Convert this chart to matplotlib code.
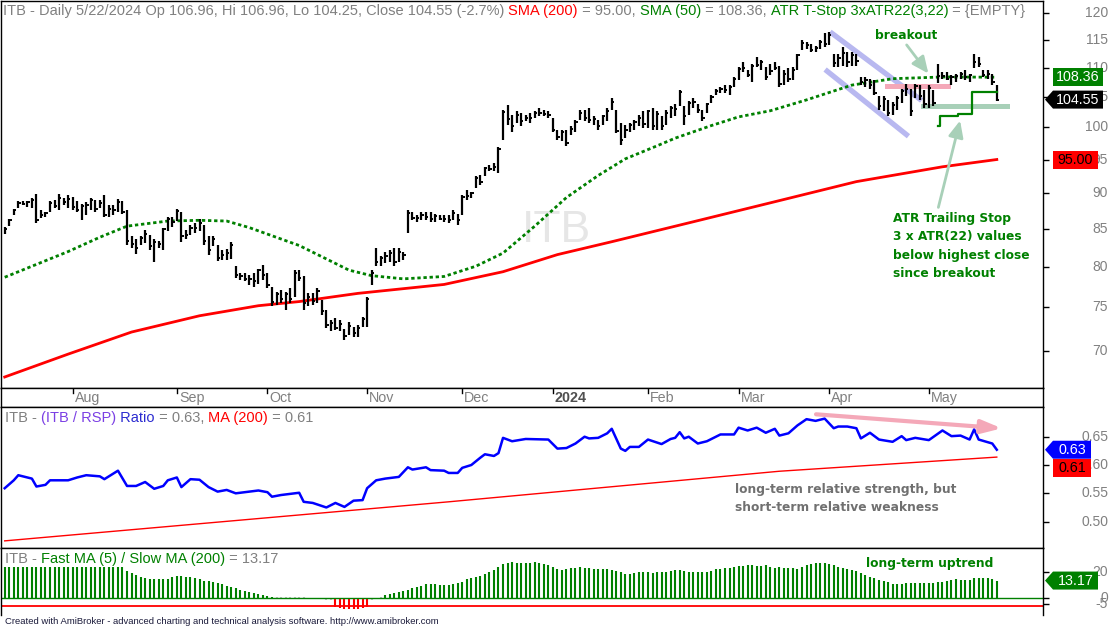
import numpy as np
import matplotlib
matplotlib.use('Agg')
import matplotlib.pyplot as plt
from matplotlib.patches import Polygon
from matplotlib.transforms import blended_transform_factory
from matplotlib.ticker import FixedLocator, NullLocator, NullFormatter

plt.rcParams['font.family'] = ['Liberation Sans', 'DejaVu Sans']

# daily bars, Jul 11 2023 .. May 22 2024 (bar index 0..219)
highs = [
    85.3, 86.4, 87.8, 88.9, 88.9, 88.9, 89.3, 89.9, 87.6, 87.4,
    88.9, 89.1, 89.9, 89.3, 89.7, 89.5, 88.9, 88.5, 88.7, 89.3,
    89.1, 89.1, 89.7, 88.3, 88.3, 89.2, 88.9, 87.6, 84.0, 83.7,
    84.0, 84.9, 84.2, 83.7, 83.4, 85.1, 86.7, 86.7, 87.8, 87.3,
    84.9, 85.6, 85.8, 86.4, 85.6, 84.0, 84.1, 82.9, 82.2, 82.3,
    83.2, 80.1, 79.3, 79.2, 79.0, 79.2, 79.8, 80.3, 79.2, 77.5,
    76.9, 77.1, 76.9, 77.3, 79.6, 79.6, 78.8, 76.7, 76.7, 77.3,
    75.9, 74.7, 73.5, 73.7, 73.5, 72.5, 73.3, 72.7, 72.9, 73.9,
    76.3, 79.6, 82.5, 81.4, 82.0, 82.2, 82.5, 82.5, 82.0, 87.6,
    87.3, 86.9, 87.3, 87.3, 87.3, 87.1, 86.9, 86.9, 86.9, 87.6,
    87.1, 89.7, 90.5, 90.2, 92.5, 92.7, 93.9, 94.2, 94.4, 96.9,
    102.8, 103.7, 102.0, 102.6, 102.3, 102.0, 102.3, 102.6, 103.2, 102.9,
    102.6, 101.6, 99.6, 99.6, 99.6, 100.2, 101.2, 102.9, 102.9, 103.2,
    101.8, 101.2, 102.0, 103.2, 104.8, 102.9, 100.7, 100.4, 100.7, 101.2,
    102.0, 102.6, 102.9, 103.2, 102.6, 101.8, 102.9, 103.5, 103.8, 106.2,
    103.5, 104.3, 104.8, 103.8, 102.9, 104.0, 105.3, 106.4, 106.7, 107.0,
    107.0, 108.4, 110.1, 111.0, 109.6, 110.7, 111.9, 111.4, 110.1, 110.7,
    111.0, 110.4, 109.6, 109.9, 110.1, 112.5, 115.0, 114.6, 114.3, 113.9,
    115.0, 116.3, 116.5, 112.5, 112.5, 113.8, 112.8, 112.8, 112.5, 108.4,
    108.4, 108.1, 107.8, 105.1, 105.1, 104.5, 104.2, 105.1, 106.4, 107.2,
    106.4, 107.2, 107.0, 106.2, 107.0, 106.2, 110.7, 109.3, 109.3, 108.7,
    109.0, 109.3, 109.6, 109.0, 112.5, 111.9, 109.6, 109.6, 109.0, 106.96]
lows = [
    84.3, 85.4, 86.9, 87.9, 88.3, 88.0, 87.9, 85.8, 86.5, 86.7,
    87.3, 87.9, 87.6, 88.3, 87.9, 87.7, 87.3, 86.2, 86.9, 87.6,
    87.3, 87.9, 86.7, 86.7, 86.9, 87.3, 87.1, 82.9, 82.5, 81.7,
    82.9, 83.1, 82.2, 80.7, 82.5, 82.2, 84.7, 85.3, 86.1, 83.3,
    83.7, 84.2, 84.5, 84.7, 82.9, 81.6, 82.7, 80.8, 80.9, 80.9,
    81.0, 78.6, 78.4, 78.2, 77.7, 77.5, 77.9, 78.4, 77.3, 75.2,
    75.3, 75.5, 74.7, 75.5, 76.3, 78.2, 74.7, 75.2, 75.3, 75.5,
    74.1, 72.6, 72.2, 72.3, 72.2, 71.2, 71.8, 71.5, 71.5, 72.7,
    72.7, 77.7, 80.1, 80.1, 80.5, 80.7, 80.1, 80.7, 80.9, 84.5,
    86.2, 85.9, 86.2, 86.2, 85.9, 85.9, 86.2, 86.0, 85.8, 86.2,
    85.6, 86.9, 89.0, 89.3, 90.8, 91.2, 92.5, 93.2, 93.2, 93.0,
    98.0, 100.4, 99.3, 100.7, 100.2, 101.0, 100.7, 101.6, 101.8, 101.8,
    101.6, 99.3, 98.0, 97.8, 97.1, 98.8, 99.3, 101.2, 101.0, 100.7,
    100.4, 99.6, 100.4, 101.0, 102.9, 99.1, 97.3, 98.3, 99.3, 99.6,
    100.2, 99.9, 99.9, 99.6, 99.6, 99.6, 100.4, 101.6, 101.8, 103.5,
    100.4, 102.0, 103.2, 102.3, 101.0, 102.3, 104.0, 105.3, 105.6, 105.6,
    105.3, 106.7, 107.9, 109.3, 108.4, 107.6, 110.1, 109.6, 107.9, 108.7,
    109.6, 106.6, 107.0, 107.6, 107.9, 109.6, 113.2, 113.4, 112.8, 112.8,
    113.4, 113.8, 114.0, 110.1, 110.1, 110.4, 110.1, 110.4, 110.4, 107.0,
    106.6, 106.4, 105.3, 102.9, 102.6, 101.8, 102.0, 102.9, 103.9, 105.1,
    101.8, 104.8, 104.5, 103.2, 103.2, 103.5, 107.3, 108.1, 107.9, 107.0,
    107.6, 108.1, 107.9, 107.6, 109.9, 110.1, 108.4, 108.1, 107.0, 104.25]
closes = [
    85.0, 86.2, 87.6, 88.6, 88.5, 88.7, 89.0, 86.2, 87.0, 87.2,
    88.6, 88.2, 89.4, 88.8, 89.2, 88.0, 87.6, 88.2, 88.3, 89.0,
    87.8, 88.6, 87.0, 87.8, 87.6, 88.8, 87.4, 83.4, 83.0, 82.5,
    83.8, 84.3, 82.7, 83.2, 83.0, 85.0, 86.4, 86.0, 87.5, 84.0,
    84.2, 85.2, 85.2, 85.8, 83.4, 82.2, 83.6, 81.2, 81.5, 81.8,
    82.8, 79.0, 78.9, 78.5, 78.5, 78.2, 79.6, 79.0, 77.7, 75.6,
    76.6, 76.0, 76.6, 76.0, 79.3, 78.6, 75.5, 76.3, 75.8, 77.0,
    74.6, 72.9, 73.2, 72.6, 73.0, 71.6, 72.8, 72.0, 72.6, 73.6,
    76.0, 79.2, 80.6, 81.2, 81.4, 81.8, 80.6, 82.0, 81.6, 87.2,
    86.5, 86.5, 86.9, 86.6, 86.4, 86.8, 86.4, 86.4, 86.2, 87.2,
    86.2, 89.5, 89.6, 90.0, 92.2, 91.6, 93.7, 93.6, 93.8, 96.6,
    102.5, 101.3, 100.3, 102.0, 101.0, 101.6, 101.6, 102.3, 102.4, 102.2,
    102.0, 99.6, 98.5, 99.2, 97.5, 99.8, 100.8, 102.4, 101.6, 101.2,
    101.4, 100.2, 101.8, 102.6, 104.2, 99.5, 98.0, 99.6, 100.4, 100.8,
    101.6, 100.6, 102.6, 100.2, 102.2, 100.2, 102.4, 103.2, 103.0, 105.8,
    101.8, 103.9, 104.1, 102.8, 101.6, 103.8, 105.0, 106.0, 106.4, 106.1,
    106.6, 108.1, 109.8, 110.0, 108.8, 110.4, 110.5, 111.0, 108.4, 109.4,
    110.0, 107.2, 109.0, 108.0, 109.7, 112.2, 114.4, 114.0, 113.2, 113.6,
    114.7, 114.2, 116.0, 110.8, 111.8, 112.6, 111.0, 112.2, 111.2, 107.5,
    107.8, 107.0, 105.7, 103.5, 104.6, 102.4, 103.6, 104.8, 106.0, 106.4,
    102.6, 106.8, 105.2, 103.8, 106.5, 104.0, 108.6, 108.6, 108.0, 108.4,
    108.6, 108.9, 108.4, 108.8, 111.0, 110.6, 108.8, 109.0, 107.6, 104.55]

sma200_idx = [0, 14, 28, 43, 56, 65, 78, 97, 110, 122, 134, 152, 170, 188, 207, 219]
sma200_val = [67.1, 69.6, 72.1, 74.0, 75.2, 75.7, 76.7, 77.8, 79.4, 81.6, 83.3,
              86.0, 88.8, 91.7, 93.9, 95.0]
sma50_idx = [0, 6, 14, 21, 27, 36, 43, 49, 54, 65, 76, 81, 88, 97, 104, 110, 117,
             124, 131, 137, 144, 148, 156, 162, 169, 177, 187, 196, 207, 219]
sma50_val = [78.7, 80.1, 82.0, 83.9, 85.4, 86.1, 86.2, 86.1, 85.2, 82.8, 79.6,
             78.9, 78.5, 78.8, 80.1, 81.8, 85.4, 89.4, 92.6, 95.1, 97.1, 98.3,
             100.3, 101.7, 102.7, 104.5, 107.0, 108.1, 108.4, 108.36]
stop_idx = [206, 207, 208, 209, 210, 211, 212, 213, 214, 215, 216, 217, 218, 219]
stop_val = [100.2, 101.9, 101.9, 101.9, 101.9, 102.2, 102.2, 102.2,
            105.8, 105.8, 105.8, 105.8, 105.8, 105.8]
price_ticks = [70, 75, 80, 85, 90, 95, 100, 105, 110, 115, 120]

month_idx = [15, 38, 58, 80, 101, 121, 142, 162, 182, 204]
month_lbl = ['Aug', 'Sep', 'Oct', 'Nov', 'Dec', '2024', 'Feb', 'Mar', 'Apr', 'May']

ratio_idx = [0, 2, 3, 6, 7, 9, 10, 14, 16, 18, 21, 22, 25, 27, 29, 31, 33, 35, 36,
             38, 39, 41, 43, 45, 47, 49, 51, 56, 58, 59, 61, 65, 66, 68, 71, 73,
             75, 77, 79, 80, 82, 84, 87, 89, 90, 93, 94, 97, 98, 100, 101, 103,
             105, 106, 108, 109, 110, 112, 115, 120, 122, 124, 126, 128, 129,
             131, 133, 134, 136, 137, 138, 140, 142, 145, 147, 148, 149, 150,
             151, 153, 155, 158, 161, 162, 164, 166, 168, 170, 171, 173, 175,
             177, 179, 181, 183, 184, 186, 188, 189, 191, 193, 196, 198, 199,
             201, 204, 207, 209, 211, 213, 214, 215, 218, 219]
ratio_val = [0.559, 0.573, 0.582, 0.576, 0.562, 0.565, 0.573, 0.573, 0.578, 0.582,
             0.580, 0.575, 0.590, 0.563, 0.563, 0.570, 0.558, 0.563, 0.573, 0.578,
             0.561, 0.575, 0.574, 0.561, 0.553, 0.556, 0.550, 0.555, 0.552, 0.544,
             0.547, 0.551, 0.535, 0.533, 0.525, 0.533, 0.526, 0.537, 0.538, 0.559,
             0.573, 0.576, 0.579, 0.596, 0.592, 0.596, 0.591, 0.590, 0.586, 0.586,
             0.595, 0.600, 0.613, 0.619, 0.616, 0.621, 0.648, 0.642, 0.646, 0.645,
             0.629, 0.630, 0.638, 0.650, 0.647, 0.648, 0.656, 0.664, 0.629, 0.625,
             0.632, 0.632, 0.645, 0.637, 0.646, 0.648, 0.658, 0.647, 0.650, 0.638,
             0.642, 0.654, 0.654, 0.666, 0.661, 0.666, 0.657, 0.664, 0.652, 0.656,
             0.670, 0.681, 0.678, 0.682, 0.665, 0.668, 0.668, 0.665, 0.647, 0.657,
             0.645, 0.641, 0.651, 0.644, 0.648, 0.644, 0.661, 0.651, 0.652, 0.645,
             0.663, 0.645, 0.638, 0.627]
ratio_ma_idx = [0, 98, 171, 219]
ratio_ma_val = [0.466, 0.535, 0.589, 0.614]
ratio_ticks = [0.50, 0.55, 0.60, 0.65]

fast_slow = [
    23.4, 23.4, 23.4, 23.4, 23.4, 23.4, 23.4, 23.4, 23.4, 23.4,
    23.4, 23.4, 23.4, 23.4, 23.4, 23.4, 23.4, 23.4, 23.4, 23.4,
    23.4, 23.4, 23.4, 23.4, 23.4, 23.4, 23.4, 20.9, 18.8, 17.5,
    16.2, 14.9, 14.4, 14.1, 14.1, 14.1, 14.4, 15.7, 16.7, 16.7,
    16.2, 15.7, 14.9, 14.4, 13.1, 12.8, 12.3, 11.5, 10.5, 9.2,
    8.5, 7.2, 5.9, 5.2, 4.1, 3.3, 2.6, 2.1, 1.5, 0.8,
    0.3, 0.6, 0.4, 0.2, 0.5, 0.6, 0.3, -0.4, -0.8, -1.0,
    -1.3, -1.5, -1.8, -6.9, -8.2, -8.9, -8.9, -8.9, -8.9, -8.2,
    -6.9, -1.6, -0.9, 0.4, 1.8, 2.8, 3.3, 4.1, 5.4, 5.9,
    7.2, 8.5, 9.0, 10.5, 10.5, 10.2, 9.8, 9.8, 9.8, 10.2,
    11.5, 12.3, 14.4, 15.4, 16.2, 16.7, 18.0, 19.5, 21.3, 23.8,
    25.6, 26.9, 27.7, 26.7, 26.7, 26.7, 26.7, 27.4, 26.7, 26.2,
    25.2, 23.4, 22.1, 21.6, 22.1, 22.6, 22.6, 23.4, 22.6, 22.6,
    22.4, 21.9, 22.4, 21.9, 21.1, 20.5, 19.5, 18.0, 18.0, 19.0,
    19.5, 19.5, 19.5, 19.0, 19.5, 19.5, 20.0, 20.8, 21.1, 21.3,
    20.8, 20.0, 20.0, 19.5, 19.5, 20.0, 20.8, 21.9, 22.1, 22.6,
    23.1, 23.8, 24.4, 24.4, 24.9, 24.9, 24.4, 24.4, 24.9, 23.8,
    23.1, 23.4, 22.6, 22.6, 22.6, 21.8, 23.4, 25.1, 25.9, 26.4,
    26.4, 26.4, 25.9, 25.1, 23.9, 22.6, 22.1, 21.4, 20.9, 18.8,
    17.5, 16.2, 14.9, 13.6, 12.8, 11.8, 10.5, 10.5, 10.5, 11.0,
    11.0, 11.5, 11.5, 11.5, 11.5, 11.5, 12.3, 12.3, 12.8, 13.6,
    14.1, 13.6, 13.6, 13.6, 14.9, 14.9, 14.9, 14.9, 14.4, 13.17]
fs_ticks = [20, 0, -5]

W, H = 1112, 629
GREY = '#808080'
RED = '#ff0000'
GREEN = '#008000'
NOTE_GREEN = '#a8d0b8'
PINK = '#f4a8b8'
TITLE_SIZE = 10.5

fig = plt.figure(figsize=(W / 100, H / 100), dpi=100)


def add_axes_px(x0, y0, x1, y1):
    return fig.add_axes([x0 / W, 1 - y1 / H, (x1 - x0) / W, (y1 - y0) / H])


def right_labels(a, vals, labels):
    tr = blended_transform_factory(a.transAxes, a.transData)
    for v, s in zip(vals, labels):
        a.text(1 + 65 / 1042, v, s, transform=tr, ha='right', va='center',
               color=GREY, fontsize=10, clip_on=False)


def chain_text(a, x, y, parts, size=TITLE_SIZE):
    t = None
    for s, c in parts:
        if t is None:
            t = a.text(x, y, s, transform=a.transAxes, color=c, fontsize=size,
                       va='center', ha='left')
        else:
            t = a.annotate(s, xy=(1, 0), xycoords=t, color=c, fontsize=size,
                           va='bottom', ha='left')
    return t


def badge(a, value, text, fc, tc, x1, arrow, dy=0):
    yc = a.transData.transform((0, value))[1] + dy
    h = 9
    if arrow:
        pts = [(1045, yc), (1053, yc + h), (x1, yc + h), (x1, yc - h), (1053, yc - h)]
    else:
        pts = [(1053, yc + h), (x1, yc + h), (x1, yc - h), (1053, yc - h)]
    pts = np.array(pts) / [W, H]
    fig.add_artist(Polygon(pts, closed=True, fc=fc, ec='none', transform=fig.transFigure))
    fig.text((1053 + x1) / 2 / W, yc / H, text, color=tc, fontsize=10.3,
             ha='center', va='center')


def note(a, x, y, s, color, **kw):
    a.text(x, y, s, color=color, fontsize=8.8, fontweight='bold',
           family='DejaVu Sans', **kw)


def arrow(a, xy, xytext, color, lw, hl, hw):
    a.annotate('', xy=xy, xytext=xytext,
               arrowprops=dict(arrowstyle='-|>,head_length=%s,head_width=%s' % (hl, hw),
                               color=color, lw=lw, shrinkA=0, shrinkB=0,
                               mutation_scale=10))


def main():
    ax = add_axes_px(1, 1, 1043, 388)
    axd = add_axes_px(1, 388, 1043, 407)
    axr = add_axes_px(1, 407, 1043, 548)
    axb = add_axes_px(1, 548, 1043, 615)
    for a in (ax, axd, axr, axb):
        a.set_xlim(-0.82, 229.2)
        a.set_xticks([])
        for s in a.spines.values():
            s.set_linewidth(1.0)
            s.set_color('black')
    axb.spines['bottom'].set_visible(False)

    idx = np.arange(len(closes))

    # --- price panel ---
    ax.set_yscale('log')
    ax.set_ylim(65.93, 122.4)
    ax.yaxis.set_major_locator(FixedLocator(price_ticks))
    ax.yaxis.set_minor_locator(NullLocator())
    ax.yaxis.set_major_formatter(NullFormatter())
    ax.text(121.7, 84.8, 'ITB', color='#e6e6e6', fontsize=32, ha='center',
            va='center', zorder=0.5)
    ax.plot(sma200_idx, sma200_val, color=RED, lw=2.0, zorder=2)
    ax.plot(sma50_idx, sma50_val, color=GREEN, lw=2.0, ls=(0, (1.2, 1.0)), zorder=2)
    ax.plot([182.2, 202.4], [116.5, 104.4], color='#b8b8f0', lw=3.8,
            solid_capstyle='butt', zorder=1)
    ax.plot([181.1, 199.5], [109.7, 98.6], color='#b8b8f0', lw=3.8,
            solid_capstyle='butt', zorder=1)
    ax.plot([194.7, 208.3], [106.8, 106.8], color=PINK, lw=3.6, zorder=1)
    ax.plot([202.7, 221.2], [103.5, 103.5], color=NOTE_GREEN, lw=3.6, zorder=1)
    ax.vlines(idx, lows, highs, color='black', lw=1.6, zorder=3)
    ax.hlines(closes, idx, idx + 0.5, color='black', lw=1.4, zorder=3)
    ax.plot(stop_idx, stop_val, drawstyle='steps-mid', color=GREEN, lw=1.6, zorder=4)
    arrow(ax, (203.9, 109.0), (199.1, 114.1), NOTE_GREEN, 2, 1.0, 0.45)
    arrow(ax, (210.9, 101.1), (206.1, 88.0), NOTE_GREEN, 2, 1.0, 0.45)
    note(ax, 198.9, 115.9, 'breakout', GREEN, ha='center', va='center')
    note(ax, 196.1, 87.4, 'ATR Trailing Stop\n3 x ATR(22) values\nbelow highest close\nsince breakout',
         GREEN, ha='left', va='top', linespacing=1.55)
    ax.tick_params(axis='y', which='both', left=False, right=True, labelleft=False,
                   labelright=False, direction='out', length=4, width=1)
    right_labels(ax, price_ticks, [str(t) for t in price_ticks])
    chain_text(ax, 2 / 1042, 0.974, [
        ('ITB - Daily 5/22/2024 Op 106.96, Hi 106.96, Lo 104.25, Close 104.55 (-2.7%) ', GREY),
        ('SMA (200)', RED), (' = 95.00, ', GREY), ('SMA (50)', GREEN),
        (' = 108.36, ', GREY), ('ATR T-Stop 3xATR22(3,22)', GREEN), (' = {EMPTY}', GREY)])

    # --- date strip ---
    axd.set_ylim(0, 1)
    axd.set_yticks([])
    for m, lbl in zip(month_idx, month_lbl):
        axd.plot([m, m], [1, 1 - 5 / 19], color='black', lw=1)
        if lbl == '2024':
            axd.text(m + 0.45, 0.45, lbl, ha='left', va='center', color='#505050',
                     fontsize=10.3, fontweight='bold')
        else:
            axd.text(m + 0.45, 0.45, lbl, ha='left', va='center', color=GREY, fontsize=10.3)

    # --- ratio panel ---
    axr.set_ylim(0.4534, 0.7025)
    axr.plot(ratio_ma_idx, ratio_ma_val, color=RED, lw=1.0)
    axr.plot(ratio_idx, ratio_val, color='#0000ff', lw=1.8)
    arrow(axr, (220.1, 0.6648), (179.1, 0.6896), PINK, 3, 1.2, 0.4)
    note(axr, 161.1, 0.569, 'long-term relative strength, but\nshort-term relative weakness',
         '#707070', ha='left', va='top', linespacing=1.55)
    axr.set_yticks(ratio_ticks)
    axr.tick_params(axis='y', left=False, right=True, labelleft=False, labelright=False,
                    direction='out', length=4, width=1)
    right_labels(axr, ratio_ticks, ['%.2f' % t for t in ratio_ticks])
    chain_text(axr, 4 / 1042, 0.922, [
        ('ITB - ', GREY), ('(ITB / RSP)', '#7b3fe4'), (' Ratio', '#2b2bd0'),
        (' = 0.63, ', GREY), ('MA (200)', RED), (' = 0.61', GREY)])

    # --- fast / slow MA panel ---
    axb.set_ylim(-13.3, 38.2)
    fs = np.array(fast_slow)
    up = fs > 0.7
    dn = fs < -2
    mid = ~(up | dn)
    axb.vlines(idx[up], 0, fs[up], color=GREEN, lw=1.5)
    axb.vlines(idx[dn], 0, fs[dn], color=RED, lw=1.5)
    axb.vlines(idx[mid], 0, fs[mid], color='#c0c0c0', lw=1.5, linestyles=':')
    axb.axhline(0, color=GREEN, lw=1.0)
    axb.axhline(-6.4, color=RED, lw=1.3)
    note(axb, 190.1, 26.3, 'long-term uptrend', GREEN, ha='left', va='center')
    axb.set_yticks(fs_ticks)
    axb.tick_params(axis='y', left=False, right=True, labelleft=False, labelright=False,
                    direction='out', length=4, width=1)
    right_labels(axb, fs_ticks, [str(t) for t in fs_ticks])
    chain_text(axb, 4 / 1042, 0.836, [
        ('ITB - ', GREY), ('Fast MA (5) / Slow MA (200)', GREEN), (' = 13.17', GREY)])

    # --- value badges on the right ---
    badge(ax, 108.36, '108.36', GREEN, 'white', 1103, False)
    badge(ax, 104.55, '104.55', 'black', 'white', 1103, True)
    badge(ax, 95.00, '95.00', RED, 'black', 1098, False)
    badge(axr, 0.627, '0.63', '#0000ff', 'white', 1091, True)
    badge(axr, 0.627, '0.61', RED, 'black', 1091, False, dy=-18)
    badge(axb, 13.17, '13.17', GREEN, 'white', 1098, True)

    fig.text(5 / W, 1 - 622 / H,
             'Created with AmiBroker - advanced charting and technical analysis software. http://www.amibroker.com',
             fontsize=6.8, color='#1a1a3a', va='center', ha='left')

    fig.savefig('out.png', dpi=100)


if __name__ == '__main__':
    main()
